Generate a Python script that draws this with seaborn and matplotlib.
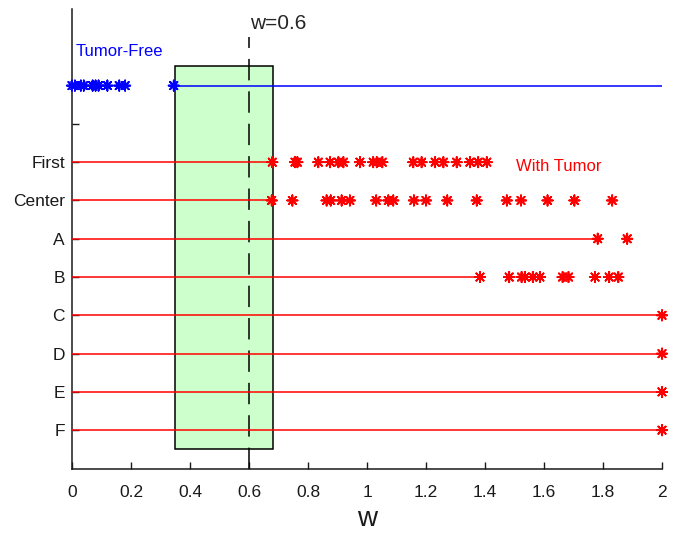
import matplotlib
matplotlib.use("Agg")
import matplotlib.pyplot as plt
import seaborn as sns
import pandas as pd

# w values, one list per row
tumor_free = [0.0, 0.01, 0.03, 0.04, 0.07, 0.08, 0.09, 0.12, 0.16, 0.18, 0.345]
first = [0.679, 0.756, 0.764, 0.835, 0.875, 0.903, 0.92, 0.976, 1.021, 1.033, 1.052,
         1.157, 1.185, 1.231, 1.259, 1.304, 1.349, 1.377, 1.406]
center = [0.677, 0.747, 0.863, 0.877, 0.914, 0.942, 1.031, 1.072, 1.089, 1.159, 1.2,
          1.272, 1.372, 1.474, 1.522, 1.612, 1.703, 1.831]
row_a = [1.782, 1.882]
row_b = [1.383, 1.482, 1.524, 1.536, 1.562, 1.586, 1.663, 1.683, 1.773, 1.821, 1.852]
row_c = [2.0]
row_d = [2.0]
row_e = [2.0]
row_f = [2.0]

tumor_rows = ["First", "Center", "A", "B", "C", "D", "E", "F"]
tumor_vals = [first, center, row_a, row_b, row_c, row_d, row_e, row_f]
tumor_pos = [8, 7, 6, 5, 4, 3, 2, 1]
free_pos = 10
threshold = 0.6
band = (0.35, 0.68)

records = [{"w": v, "pos": free_pos, "group": "Tumor-Free"} for v in tumor_free]
for p, vals in zip(tumor_pos, tumor_vals):
    records += [{"w": v, "pos": p, "group": "With Tumor"} for v in vals]
df = pd.DataFrame(records)

sns.set_style("ticks", {"xtick.direction": "in", "ytick.direction": "in"})
plt.rcParams["font.family"] = ["Liberation Sans", "DejaVu Sans"]

fig = plt.figure(figsize=(6.8, 5.33), dpi=100)
ax = fig.add_axes([72 / 680, 1 - 468.5 / 533, 590 / 680, (468.5 - 9) / 533])

# green band and the threshold line
ax.add_patch(plt.Rectangle((band[0], 0.5), band[1] - band[0], 10, facecolor="#ccffcc",
                           edgecolor="black", linewidth=1.1, zorder=1))
ax.plot([threshold, threshold], [0, 11.27], color="black", linewidth=1.1,
        dashes=(14, 7.2), zorder=2)

# gap lines
ax.plot([max(tumor_free), 2], [free_pos, free_pos], color="blue", linewidth=1.1, zorder=3)
for p, vals in zip(tumor_pos, tumor_vals):
    ax.plot([0, min(vals)], [p, p], color="red", linewidth=1.1, zorder=3)

sns.scatterplot(data=df, x="w", y="pos", hue="group",
                palette={"Tumor-Free": "blue", "With Tumor": "red"},
                marker=(8, 2, 0), s=55, linewidth=1.3, legend=False,
                ax=ax, zorder=4, clip_on=False)

ax.text(threshold + 0.005, 11.49, "w=0.6", fontsize=15, ha="left", va="baseline")
ax.text(0.012, 10.78, "Tumor-Free", fontsize=12, color="blue", ha="left", va="baseline")
ax.text(1.505, 7.77, "With Tumor", fontsize=12, color="red", ha="left", va="baseline")

ax.set_xlim(0, 2)
ax.set_ylim(0, 12)
ax.set_xticks([0, 0.2, 0.4, 0.6, 0.8, 1, 1.2, 1.4, 1.6, 1.8, 2])
ax.set_xticklabels(["0", "0.2", "0.4", "0.6", "0.8", "1", "1.2", "1.4", "1.6", "1.8", "2"])
ax.set_yticks(tumor_pos + [9, 10])
ax.set_yticklabels(tumor_rows + ["", ""])
ax.tick_params(axis="both", labelsize=12.5, length=5, width=1, color="#1a1a1a",
               labelcolor="#1a1a1a")
ax.tick_params(axis="x", pad=12)
ax.tick_params(axis="y", pad=5)
ax.set_xlabel("w", fontsize=20, labelpad=4.5, color="#1a1a1a")
ax.set_ylabel("")
for side in ["top", "right"]:
    ax.spines[side].set_visible(False)
for side in ["left", "bottom"]:
    ax.spines[side].set_color("#1a1a1a")
    ax.spines[side].set_linewidth(1.1)

fig.savefig("out.png", dpi=100)
